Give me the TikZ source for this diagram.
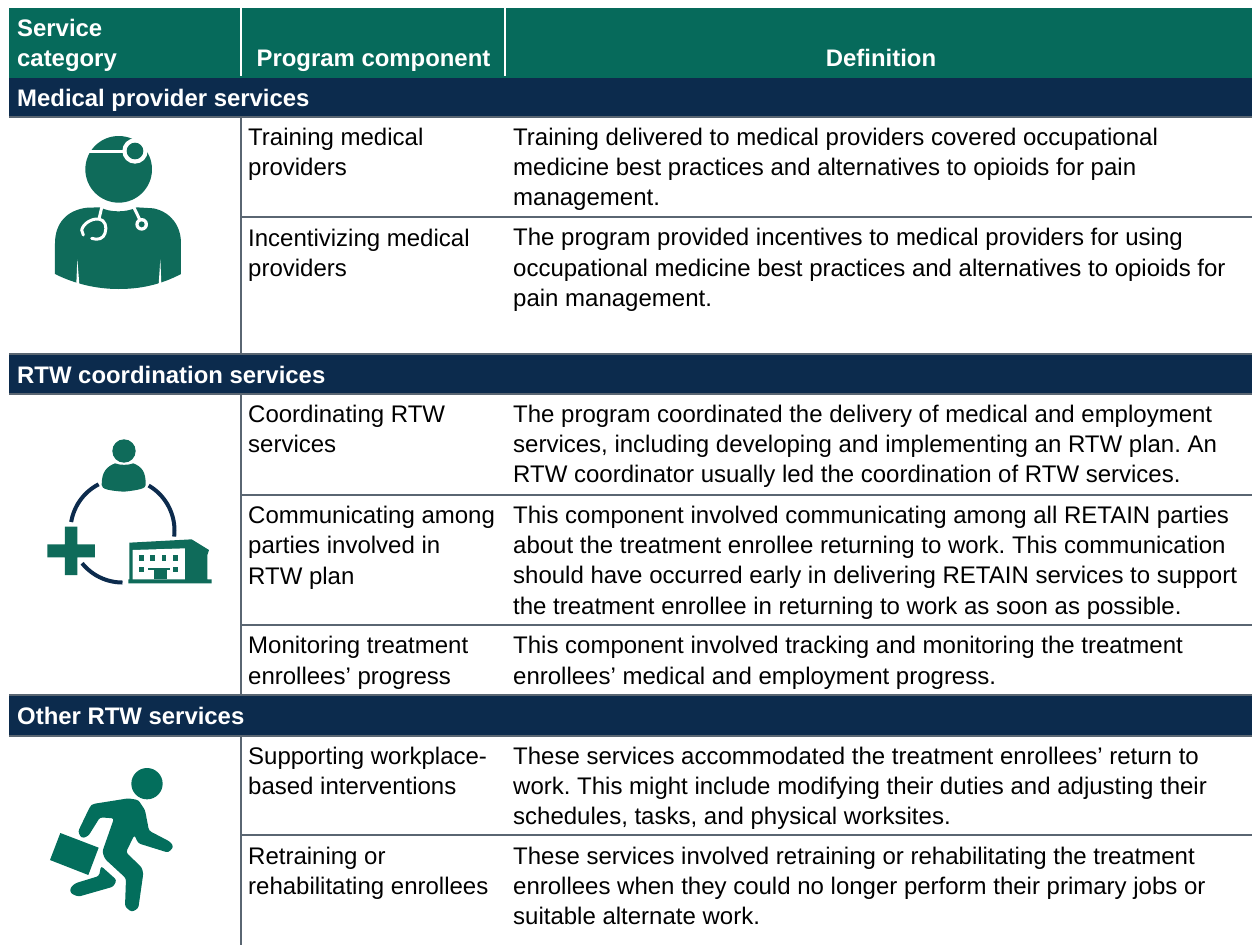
\documentclass[tikz,border=0pt]{standalone}
\usepackage{fontspec}
\setmainfont{Liberation Sans}
\frenchspacing
\definecolor{hdgreen}{HTML}{066A5B}
\definecolor{icgreen}{HTML}{0F6B5A}
\definecolor{rungreen}{HTML}{036E5C}
\definecolor{navy}{HTML}{0C2B4D}
\definecolor{rule}{HTML}{5A6672}
\tikzset{
 bandtxt/.style={anchor=base west,inner sep=0pt,text=white,font=\fontsize{23.9}{30}\selectfont\bfseries},
 hdtxt/.style={anchor=base,inner sep=0pt,text=white,font=\fontsize{23.9}{30}\selectfont\bfseries},
 cell/.style={anchor=base west,inner sep=0pt,align=left,text=black,font=\fontsize{24}{30.2}\selectfont},
 rl/.style={draw=rule,line width=2pt},
 zoomed/.style={shift={(#1)},x=0.33333pt,y=-0.33333pt},
 wl/.style={draw=white,line width=3pt,line cap=round,line join=round},
 navyarc/.style={draw=navy,line width=4pt},
}
\begin{document}
\begin{tikzpicture}[x=1pt,y=-1pt]
\useasboundingbox (0,0) rectangle (1252,945);
% header
\fill[hdgreen] (9,8) rectangle (1252,78);
\draw[white,line width=2pt] (241,8) -- (241,76) (505,8) -- (505,76);
\node[bandtxt] (h1a) at (17,36.5) {Service};
\node[bandtxt] (h1b) at (17,66.5) {category};
\node[hdtxt] (h2) at (373.5,66.5) {Program component};
\node[hdtxt] (h3) at (881,66.5) {Definition};
% bands
\fill[navy] (9,78) rectangle (1252,117);
\fill[navy] (9,354) rectangle (1252,394);
\fill[navy] (9,695) rectangle (1252,735);
\draw[rl] (9,117) -- (1252,117) (9,354) -- (1252,354) (9,394) -- (1252,394) (9,695) -- (1252,695) (9,735.5) -- (1252,735.5);
\node[bandtxt] (b1) at (17,106.7) {Medical provider services};
\node[bandtxt] (b2) at (17,383.5) {RTW coordination services};
\node[bandtxt] (b3) at (17,724.5) {Other RTW services};
% rules
\draw[rl] (241,118) -- (241,354) (241,395) -- (241,695) (241,736) -- (241,945);
\draw[rl] (241,217) -- (1252,217) (241,494.5) -- (1252,494.5) (241,625) -- (1252,625) (241,835) -- (1252,835);
% cells (anchored at the last baseline)
\node[cell] (c1) at (248,175.6) {Training medical\\providers};
\node[cell] (d1) at (513,205.6) {Training delivered to medical providers covered occupational\\medicine best practices and alternatives to opioids for pain\\management.};
\node[cell] (c2) at (248,276.3) {Incentivizing medical\\providers};
\node[cell] (d2) at (513,306.3) {The program provided incentives to medical providers for using\\occupational medicine best practices and alternatives to opioids for\\pain management.};
\node[cell] (c3) at (248,452.5) {Coordinating RTW\\services};
\node[cell] (d3) at (513,482.5) {The program coordinated the delivery of medical and employment\\services, including developing and implementing an RTW plan. An\\RTW coordinator usually led the coordination of RTW services.};
\node[cell] (c4) at (248,584) {Communicating among\\parties involved in\\RTW plan};
\node[cell] (d4) at (513,614) {This component involved communicating among all RETAIN parties\\about the treatment enrollee returning to work. This communication\\should have occurred early in delivering RETAIN services to support\\the treatment enrollee in returning to work as soon as possible.};
\node[cell] (c5) at (248,684) {Monitoring treatment\\enrollees’ progress};
\node[cell] (d5) at (513,684) {This component involved tracking and monitoring the treatment\\enrollees’ medical and employment progress.};
\node[cell] (c6) at (248,794.5) {Supporting workplace-\\based interventions};
\node[cell] (d6) at (513,824.5) {These services accommodated the treatment enrollees’ return to\\work. This might include modifying their duties and adjusting their\\schedules, tasks, and physical worksites.};
\node[cell] (c7) at (248,894.5) {Retraining or\\rehabilitating enrollees};
\node[cell] (d7) at (513,924.5) {These services involved retraining or rehabilitating the treatment\\enrollees when they could no longer perform their primary jobs or\\suitable alternate work.};
% doctor icon
\begin{scope}[zoomed={0,120}]
\fill[icgreen] (356,148) circle[radius=100];
\draw[wl] (268,95) -- (380,95);
\fill[white] (405,93) circle[radius=38];
\fill[icgreen] (405,93) circle[radius=25];
\fill[icgreen] (165,462) -- (165,370) .. controls (165,310) and (200,270) .. (262,263) -- (300,262) .. controls (330,278) and (380,278) .. (410,262) -- (460,265) .. controls (510,275) and (543,315) .. (543,370) -- (543,462) .. controls (480,495) and (420,507) .. (356,507) .. controls (290,507) and (225,492) .. (165,462) -- cycle;
\fill[white] (232,418) -- (229,491) -- (238,493) -- cycle;
\fill[white] (481,418) -- (476,493) -- (484,491) -- cycle;
\draw[wl] (305,263) -- (297,297);
\draw[wl] (250,345) -- (245,330) .. controls (250,310) and (275,295) .. (297,297) .. controls (315,300) and (322,320) .. (315,340) .. controls (310,355) and (295,362) .. (275,355);
\draw[wl] (402,263) -- (420,300);
\fill[white] (425,313) circle[radius=19];
\fill[icgreen] (425,313) circle[radius=9];
\end{scope}
% coordination icon
\draw[navyarc] plot[domain=242.7:189.4,samples=30] ({122.5+52*cos(\x)},{530.5+52*sin(\x)});
\draw[navyarc] plot[domain=-59.8:6.7,samples=30] ({122.5+52*cos(\x)},{530.5+52*sin(\x)});
\draw[navyarc] plot[domain=141:90,samples=30] ({122.5+52*cos(\x)},{530.5+52*sin(\x)});
\begin{scope}[zoomed={0,420}]
\fill[icgreen] (372,93) circle[radius=35];
\fill[icgreen] (305,195) .. controls (305,155) and (320,140) .. (345,130) .. controls (360,136) and (385,136) .. (400,130) .. controls (425,140) and (438,155) .. (437,195) .. controls (437,205) and (420,210) .. (372,215) .. controls (325,212) and (305,207) .. (305,195) -- cycle;
\fill[icgreen] (195,320) -- (232,320) -- (232,373) -- (285,373) -- (285,412) -- (232,412) -- (232,465) -- (195,465) -- (195,412) -- (142,412) -- (142,373) -- (195,373) -- cycle;
\fill[icgreen] (388,368) -- (575,358) -- (627,390) -- (622,405) -- (622,478) -- (635,478) -- (635,490) -- (385,490) -- (385,478) -- (388,478) -- cycle;
\fill[white] (398,390) -- (555,385) -- (555,478) -- (398,478) -- cycle;
\foreach \wx in {417,451,485,520} \fill[icgreen] (\wx,405) rectangle (\wx+14,422);
\foreach \wx in {417,520} \fill[icgreen] (\wx,440) rectangle (\wx+14,457);
\fill[icgreen] (445,443) rectangle (510,450);
\fill[icgreen] (462,450) rectangle (500,478);
\end{scope}
% runner icon
\begin{scope}[zoomed={0,750}]
\fill[rungreen] (441,101) circle[radius=47];
\fill[rungreen,rounded corners=2.5pt] (278,162) -- (385,145) -- (415,150) -- (435,180) -- (447,242) -- (510,275) -- (521,290) -- (505,308) -- (415,280) -- (403,255) -- (378,307) -- (425,352) -- (430,370) -- (415,475) -- (395,486) -- (375,470) -- (378,385) -- (315,327) -- (307,305) -- (342,205) -- (300,202) -- (265,258) -- (245,265) -- (234,245) -- (270,170) -- cycle;
\fill[rungreen,rounded corners=2.5pt] (303,348) -- (350,390) -- (340,410) -- (235,440) -- (212,430) -- (210,415) -- (225,400) -- (297,378) -- cycle;
\fill[rungreen] (181,249) -- (296,293) -- (265,375) -- (150,330) -- cycle;
\end{scope}
\end{tikzpicture}
\end{document}
